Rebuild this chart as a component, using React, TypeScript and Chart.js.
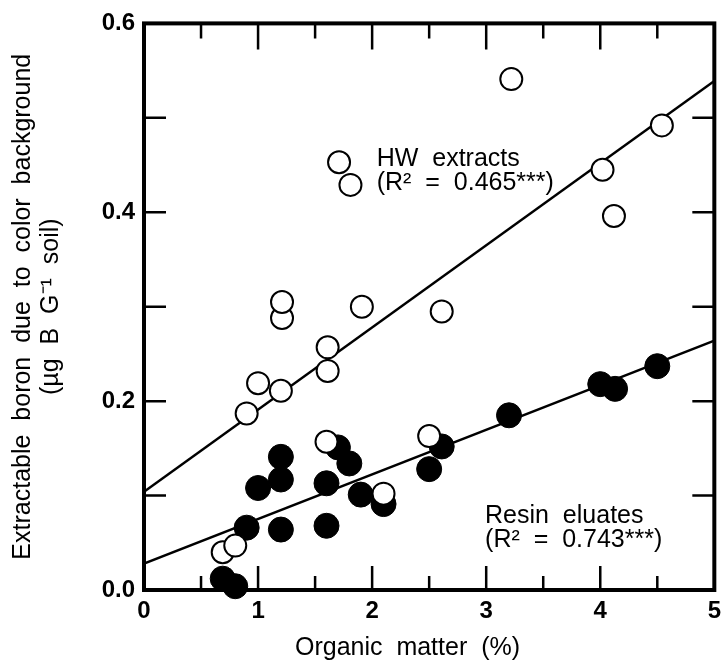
import React, { useEffect, useRef } from 'react';
import { Chart, registerables } from 'chart.js';

Chart.register(...registerables);

// HW extracts (open circles)
const hwX = [0.69, 0.80, 0.90, 1.00, 1.20, 1.21, 1.21, 1.61, 1.61, 1.60, 1.71, 1.81, 1.91, 2.10, 2.50, 2.61, 3.22, 4.02, 4.12, 4.54];
const hwY = [0.040, 0.047, 0.187, 0.219, 0.211, 0.288, 0.305, 0.232, 0.257, 0.157, 0.453, 0.429, 0.300, 0.102, 0.163, 0.295, 0.541, 0.445, 0.396, 0.492];

// Resin eluates (filled circles)
const resinX = [0.69, 0.80, 0.90, 1.00, 1.20, 1.20, 1.20, 1.60, 1.60, 1.70, 1.80, 1.90, 2.10, 2.50, 2.61, 3.20, 4.00, 4.13, 4.50];
const resinY = [0.012, 0.004, 0.066, 0.108, 0.064, 0.117, 0.141, 0.068, 0.113, 0.151, 0.134, 0.101, 0.091, 0.128, 0.152, 0.185, 0.218, 0.213, 0.237];

// Regression lines (end points)
const fitX = [0, 5];
const hwFitY = [0.104, 0.539];
const resinFitY = [0.028, 0.264];

// Axis ticks
const xMajorTicks = [1, 2, 3, 4];
const xMinorTicks = [0.5, 1.5, 2.5, 3.5, 4.5];
const yTickMarks = [0.1, 0.2, 0.3, 0.4, 0.5];

// Labels
const xTitle = 'Organic  matter  (%)';
const xTitleCenter = 2.31;
const yTitle = ['Extractable  boron  due  to  color  background', '(\u00b5g  B  G\u207b\u00b9  soil)'];
const hwLabel = ['HW  extracts', '(R\u00b2  =  0.465***)'];
const hwLabelPos = [2.04, 0.456, 0.431];
const resinLabel = ['Resin  eluates', '(R\u00b2  =  0.743***)'];
const resinLabelPos = [2.99, 0.078, 0.053];

const FONT = "'Liberation Sans', Arial, Helvetica, sans-serif";

const toPts = (xs: number[], ys: number[]) => xs.map((x, i) => ({ x, y: ys[i] }));

const framePlugin = {
  id: 'frameTicks',
  beforeDatasetsDraw(chart: any) {
    const { ctx, chartArea: a, scales } = chart;
    const x = scales.x;
    const y = scales.y;
    ctx.save();
    ctx.strokeStyle = '#000';
    ctx.lineCap = 'butt';
    ctx.lineWidth = 2.5;
    ctx.beginPath();
    xMajorTicks.forEach((v) => {
      const px = x.getPixelForValue(v);
      ctx.moveTo(px, a.bottom);
      ctx.lineTo(px, a.bottom - 24);
      ctx.moveTo(px, a.top);
      ctx.lineTo(px, a.top + 26);
    });
    xMinorTicks.forEach((v) => {
      const px = x.getPixelForValue(v);
      ctx.moveTo(px, a.bottom);
      ctx.lineTo(px, a.bottom - 14);
      ctx.moveTo(px, a.top);
      ctx.lineTo(px, a.top + 15);
    });
    yTickMarks.forEach((v) => {
      const py = y.getPixelForValue(v);
      ctx.moveTo(a.left, py);
      ctx.lineTo(a.left + 22, py);
      ctx.moveTo(a.right, py);
      ctx.lineTo(a.right - 22, py);
    });
    ctx.stroke();
    ctx.lineWidth = 4;
    ctx.strokeRect(a.left, a.top, a.right - a.left, a.bottom - a.top);
    ctx.restore();
  },
  afterDatasetsDraw(chart: any) {
    const { ctx, scales } = chart;
    const x = scales.x;
    const y = scales.y;
    ctx.save();
    ctx.fillStyle = '#000';
    ctx.font = `25px ${FONT}`;
    ctx.textAlign = 'left';
    ctx.textBaseline = 'middle';
    const draw = (lines: string[], pos: number[]) => {
      const px = x.getPixelForValue(pos[0]);
      ctx.fillText(lines[0], px, y.getPixelForValue(pos[1]));
      ctx.fillText(lines[1], px, y.getPixelForValue(pos[2]));
    };
    draw(hwLabel, hwLabelPos);
    draw(resinLabel, resinLabelPos);
    // x-axis title
    ctx.textAlign = 'center';
    ctx.fillText(xTitle, x.getPixelForValue(xTitleCenter), x.bottom - 14);
    ctx.restore();
  },
};

export default function App() {
  const ref = useRef<HTMLCanvasElement | null>(null);

  useEffect(() => {
    document.body.style.margin = '0';
    const canvas = ref.current;
    if (!canvas) return;
    const chart = new Chart(canvas, {
      type: 'scatter',
      data: {
        datasets: [
          {
            label: 'HW extracts',
            data: toPts(hwX, hwY),
            pointRadius: 11,
            pointBorderWidth: 2,
            pointBackgroundColor: '#fff',
            pointBorderColor: '#000',
            order: 1,
            clip: false,
          } as any,
          {
            label: 'Resin eluates',
            data: toPts(resinX, resinY),
            pointRadius: 12.5,
            pointBorderWidth: 1,
            pointBackgroundColor: '#000',
            pointBorderColor: '#000',
            order: 2,
            clip: false,
          } as any,
          {
            type: 'line',
            label: 'HW fit',
            data: toPts(fitX, hwFitY),
            borderColor: '#000',
            borderWidth: 2.5,
            pointRadius: 0,
            fill: false,
            order: 3,
          } as any,
          {
            type: 'line',
            label: 'Resin fit',
            data: toPts(fitX, resinFitY),
            borderColor: '#000',
            borderWidth: 2.5,
            pointRadius: 0,
            fill: false,
            order: 3,
          } as any,
        ],
      },
      options: {
        responsive: false,
        animation: false,
        events: [],
        layout: { padding: { top: 20, right: 10, left: 0, bottom: 0 } },
        plugins: {
          legend: { display: false },
          tooltip: { enabled: false },
          title: { display: false },
        },
        scales: {
          x: {
            type: 'linear',
            min: 0,
            max: 5,
            grid: { display: false, drawTicks: false },
            border: { display: false },
            ticks: {
              stepSize: 1,
              autoSkip: false,
              maxRotation: 0,
              padding: 7,
              color: '#000',
              font: { family: FONT, size: 24, weight: 'bold' },
              callback: (v: any) => String(v),
            },
            title: { display: false },
            afterFit: (s: any) => {
              s.height = 72;
            },
          },
          y: {
            type: 'linear',
            min: 0,
            max: 0.6,
            grid: { display: false, drawTicks: false },
            border: { display: false },
            ticks: {
              stepSize: 0.2,
              autoSkip: false,
              padding: 9,
              color: '#000',
              font: { family: FONT, size: 24, weight: 'bold' },
              callback: (v: any) => Number(v).toFixed(1),
            },
            title: {
              display: true,
              text: yTitle,
              color: '#000',
              font: { family: FONT, size: 25, weight: 'normal', lineHeight: 28 / 25 },
              padding: { top: 9, bottom: 0 },
            },
            afterFit: (s: any) => {
              s.width = 144;
            },
          },
        },
      },
      plugins: [framePlugin],
    });
    return () => chart.destroy();
  }, []);

  return (
    <div style={{ width: 728, height: 662 }}>
      <canvas ref={ref} width={728} height={662} style={{ display: 'block' }} />
    </div>
  );
}
